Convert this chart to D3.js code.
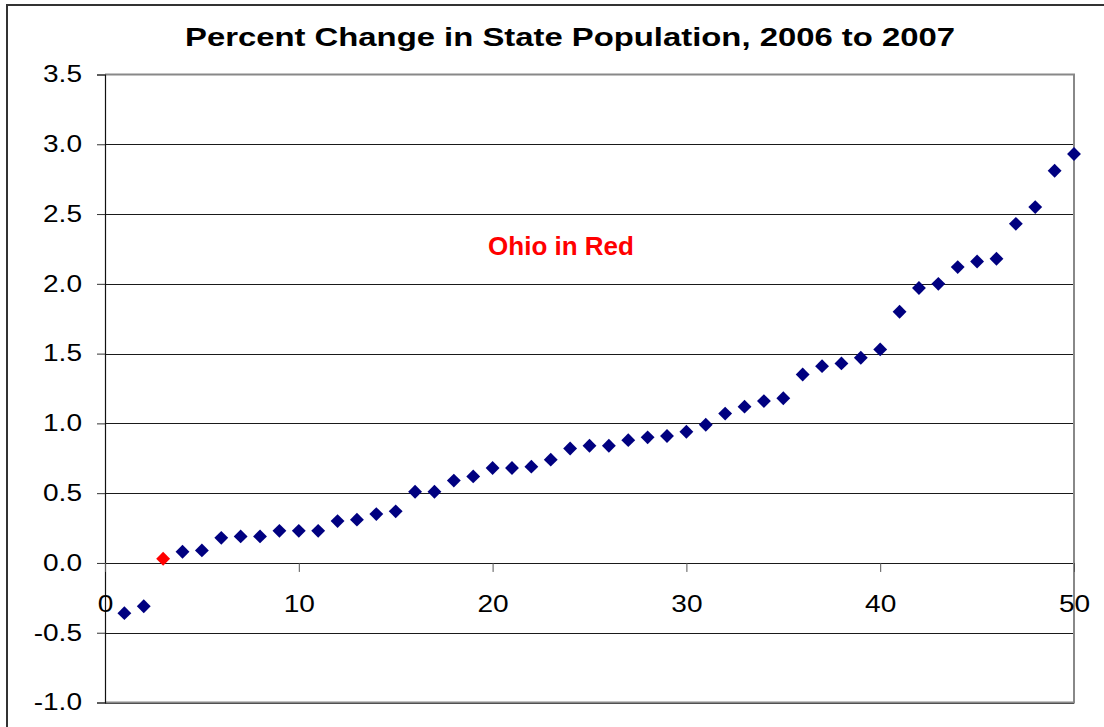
<!DOCTYPE html>
<html>
<head>
<meta charset="utf-8">
<script src="https://cdn.jsdelivr.net/npm/d3@7"></script>
<style>
  html, body { margin: 0; padding: 0; background: #fff; }
  svg { display: block; font-family: "Liberation Sans", Arial, sans-serif; }
</style>
</head>
<body>
<svg id="chart" width="1104" height="727"></svg>
<script>
// ---- Data ----
const titleText = "Percent Change in State Population, 2006 to 2007";
const annotationText = "Ohio in Red";
const stateRank = d3.range(1, 51);
const pctChange = [-0.36, -0.31, 0.03, 0.08, 0.09, 0.18, 0.19, 0.19, 0.23, 0.23,
                   0.23, 0.30, 0.31, 0.35, 0.37, 0.51, 0.51, 0.59, 0.62, 0.68,
                   0.68, 0.69, 0.74, 0.82, 0.84, 0.84, 0.88, 0.90, 0.91, 0.94,
                   0.99, 1.07, 1.12, 1.16, 1.18, 1.35, 1.41, 1.43, 1.47, 1.53,
                   1.80, 1.97, 2.00, 2.12, 2.16, 2.18, 2.43, 2.55, 2.81, 2.93];
const highlightRank = 3; // Ohio
const xTicks = [0, 10, 20, 30, 40, 50];
const yTicks = [-1.0, -0.5, 0.0, 0.5, 1.0, 1.5, 2.0, 2.5, 3.0, 3.5];

// ---- Layout ----
const svg = d3.select("#chart");
const plotLeft = 105, plotRight = 1074, plotTop = 74.5, plotBottom = 702.5;
const x = d3.scaleLinear().domain([0, 50]).range([plotLeft, plotRight]);
const y = d3.scaleLinear().domain([-1, 3.5]).range([plotBottom, plotTop]);
const stretch = 1.22;

// outer chart border
svg.append("rect").attr("x", 7).attr("y", 5).attr("width", 1120).attr("height", 760)
  .attr("fill", "#fff").attr("stroke", "#333").attr("stroke-width", 2);

// gridlines
svg.append("g").selectAll("line").data(yTicks.filter(v => v < 3.5)).join("line")
  .attr("x1", plotLeft).attr("x2", plotRight)
  .attr("y1", d => Math.round(y(d)) + 0.5).attr("y2", d => Math.round(y(d)) + 0.5)
  .attr("stroke", "#1a1a1a").attr("stroke-width", 1);

// plot area border (top, right, bottom) gray
svg.append("path")
  .attr("d", `M${plotLeft},${plotTop} L${plotRight},${plotTop} L${plotRight},${plotBottom} L${plotLeft},${plotBottom}`)
  .attr("fill", "none").attr("stroke", "#888").attr("stroke-width", 2);

// y axis
const yAxis = svg.append("g").attr("transform", `translate(${plotLeft},0)`)
  .call(d3.axisLeft(y).tickValues(yTicks).tickFormat(d => d.toFixed(1)).tickSize(8).tickPadding(15));
yAxis.select(".domain").attr("stroke", "#111").attr("stroke-width", 1.2);
yAxis.selectAll(".tick line").attr("stroke", "#333");
yAxis.selectAll(".tick text")
  .attr("font-size", 23).attr("fill", "#000")
  .attr("font-family", "'Liberation Sans', Arial, sans-serif")
  .attr("x", -23 / stretch).attr("transform", `scale(${stretch},1)`);

// x axis at y = 0
const xAxis = svg.append("g").attr("transform", `translate(0,${y(0)})`)
  .call(d3.axisBottom(x).tickValues(xTicks).tickFormat(d => String(d)).tickSize(9).tickPadding(24));
xAxis.select(".domain").remove();
xAxis.selectAll(".tick line").attr("stroke", "#555");
xAxis.selectAll(".tick text")
  .attr("font-size", 23).attr("fill", "#000")
  .attr("font-family", "'Liberation Sans', Arial, sans-serif")
  .attr("transform", `scale(${stretch},1)`);

// points
const diamond = d3.symbol().type(d3.symbolSquare).size(96);
svg.append("g").selectAll("path").data(stateRank.map((r, i) => ({ r, v: pctChange[i] })))
  .join("path")
  .attr("d", diamond)
  .attr("transform", d => `translate(${x(d.r)},${y(d.v)}) rotate(45)`)
  .attr("fill", d => d.r === highlightRank ? "#ff0000" : "#000080");

// title
svg.append("text")
  .attr("x", 570).attr("y", 46).attr("text-anchor", "middle")
  .attr("font-size", 26.5).attr("font-weight", "bold").attr("fill", "#000")
  .attr("textLength", 770).attr("lengthAdjust", "spacingAndGlyphs")
  .text(titleText);

// annotation
svg.append("text")
  .attr("x", 561).attr("y", 255).attr("text-anchor", "middle")
  .attr("font-size", 26).attr("font-weight", "bold").attr("fill", "#ff0000")
  .text(annotationText);
</script>
</body>
</html>
